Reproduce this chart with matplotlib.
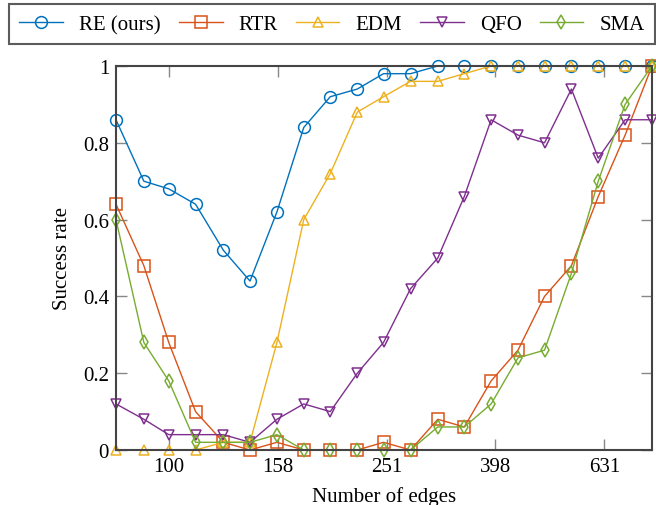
import matplotlib
matplotlib.use("Agg")
import matplotlib.pyplot as plt
import numpy as np

plt.rcParams['font.family'] = ['Liberation Serif', 'DejaVu Serif']
plt.rcParams['mathtext.fontset'] = 'stix'

edges = [80, 90, 100, 112, 126, 141, 158, 177, 198, 222, 248, 278, 312, 349,
         391, 438, 490, 549, 615, 689, 772]

re_ours = [0.86, 0.70, 0.68, 0.64, 0.52, 0.44, 0.62, 0.84, 0.92, 0.94, 0.98,
           0.98, 1.00, 1.00, 1.00, 1.00, 1.00, 1.00, 1.00, 1.00, 1.00]
rtr = [0.64, 0.48, 0.28, 0.10, 0.02, 0.00, 0.02, 0.00, 0.00, 0.00, 0.02,
       0.00, 0.08, 0.06, 0.18, 0.26, 0.40, 0.48, 0.66, 0.82, 1.00]
edm = [0.00, 0.00, 0.00, 0.00, 0.02, 0.02, 0.28, 0.60, 0.72, 0.88, 0.92,
       0.96, 0.96, 0.98, 1.00, 1.00, 1.00, 1.00, 1.00, 1.00, 1.00]
qfo = [0.12, 0.08, 0.04, 0.04, 0.04, 0.02, 0.08, 0.12, 0.10, 0.20, 0.28,
       0.42, 0.50, 0.66, 0.86, 0.82, 0.80, 0.94, 0.76, 0.86, 0.86]
sma = [0.60, 0.28, 0.18, 0.02, 0.02, 0.02, 0.04, 0.00, 0.00, 0.00, 0.00,
       0.00, 0.06, 0.06, 0.12, 0.24, 0.26, 0.46, 0.70, 0.90, 1.00]

series_names = ["RE (ours)", "RTR", "EDM", "QFO", "SMA"]
series_vals = [re_ours, rtr, edm, qfo, sma]
colors = ["#0072BD", "#D95319", "#EDB120", "#7E2F8E", "#77AC30"]
markers = ["o", "s", "^", "v", "d"]
msizes = [8.5, 8.5, 7, 7, 7.5]

xtick_vals = [100, 158.49, 251.19, 398.11, 630.96]
xtick_labels = ["100", "158", "251", "398", "631"]
ytick_vals = [0, 0.2, 0.4, 0.6, 0.8, 1.0]
ytick_labels = ["0", "0.2", "0.4", "0.6", "0.8", "1"]

W, H = 656, 506
fig = plt.figure(figsize=(W / 100, H / 100), dpi=100)
ax = fig.add_axes([116 / W, 1 - 451 / H, (652 - 116) / W, (451 - 67) / H])

handles = []
for name, vals, c, m, ms in zip(series_names, series_vals, colors, markers, msizes):
    h, = ax.plot(edges, vals, color=c, marker=m, markersize=ms,
                 markerfacecolor='none', markeredgecolor=c, markeredgewidth=1.1,
                 linewidth=1.0, clip_on=False, zorder=3, label=name)
    handles.append(h)

ax.set_xscale('log')
ax.set_xlim(edges[0], edges[-1])
ax.set_ylim(0, 1)
ax.set_xticks(xtick_vals)
ax.set_xticklabels(xtick_labels)
ax.xaxis.set_minor_locator(matplotlib.ticker.NullLocator())
ax.set_yticks(ytick_vals)
ax.set_yticklabels(ytick_labels)

ax.tick_params(axis='both', which='major', direction='in', length=8,
               width=1.0, color='#888888', labelsize=15, top=True, right=True,
               pad=5)
for sp in ax.spines.values():
    sp.set_color('#444444')
    sp.set_linewidth(1.5)
    sp.set_zorder(4)

ax.set_xlabel("Number of edges", fontsize=15, labelpad=7)
ax.set_ylabel("Success rate", fontsize=15, labelpad=8)

leg = fig.legend(handles=handles, loc='upper left', bbox_to_anchor=(9 / W, 1 - 5 / H),
                 ncol=5, fontsize=15, frameon=True, fancybox=False,
                 handlelength=2.1, handletextpad=0.78, columnspacing=0.85,
                 borderpad=0.5, borderaxespad=0)
leg.get_frame().set_edgecolor('#333333')
leg.get_frame().set_linewidth(1.5)

fig.savefig("out.png", dpi=100)
